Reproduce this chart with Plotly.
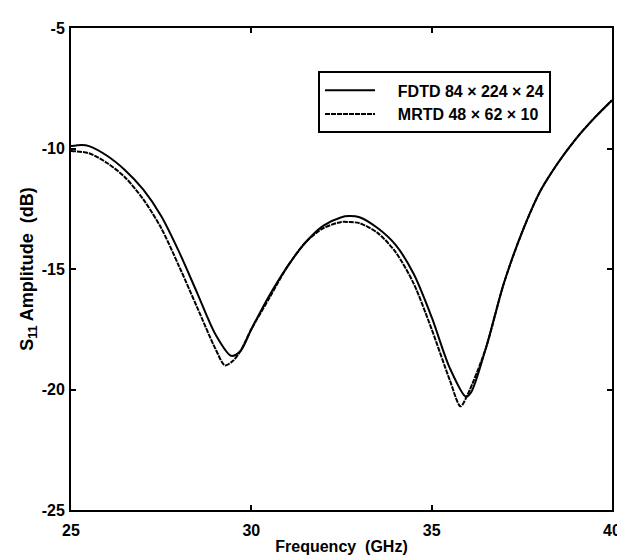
import plotly.graph_objects as go

freq_fdtd = [25.0, 25.3, 25.5, 26.0, 26.5, 27.0, 27.5, 28.0, 28.5, 29.0, 29.44, 29.7, 30.0, 30.5, 31.0,
             31.5, 32.0, 32.5, 32.7, 33.0, 33.5, 34.0, 34.5, 35.0, 35.5, 35.95, 36.1, 36.5, 37.0,
             37.5, 38.0, 38.5, 39.0, 39.5, 40.0]
s11_fdtd = [-9.9, -9.85, -9.9, -10.3, -10.9, -11.7, -12.8, -14.3, -16.0, -17.7, -18.6, -18.4, -17.5,
            -16.1, -14.9, -13.9, -13.2, -12.85, -12.8, -12.85, -13.3, -14.0, -15.2, -17.0, -19.1,
            -20.3, -20.1, -18.3, -15.6, -13.5, -11.8, -10.6, -9.6, -8.75, -8.0]

freq_mrtd = [25.0, 25.5, 26.0, 26.5, 27.0, 27.5, 28.0, 28.5, 29.0, 29.27, 29.5, 29.7, 30.0, 30.5, 31.0,
             31.5, 32.0, 32.5, 32.7, 33.0, 33.5, 34.0, 34.5, 35.0, 35.5, 35.8, 36.0, 36.5, 37.0,
             37.5, 38.0, 38.5, 39.0, 39.5, 40.0]
s11_mrtd = [-10.1, -10.2, -10.6, -11.2, -12.1, -13.3, -14.9, -16.6, -18.3, -19.0, -18.8, -18.4, -17.5,
            -16.2, -14.9, -13.9, -13.3, -13.05, -13.05, -13.1, -13.5, -14.3, -15.6, -17.5, -19.6,
            -20.7, -20.2, -18.3, -15.6, -13.5, -11.8, -10.6, -9.6, -8.75, -8.0]

x_ticks = [25, 30, 35, 40]
y_ticks = [-5, -10, -15, -20, -25]
legend_names = ["FDTD 84 \u00d7 224 \u00d7 24", "MRTD 48 \u00d7 62 \u00d7 10"]

FAM = "Liberation Sans, Arial, Helvetica, sans-serif"
font = dict(family=FAM, size=16, color="black", weight="bold")
pad = "\u00a0" * 4

fig = go.Figure()
fig.add_trace(go.Scatter(x=freq_fdtd, y=s11_fdtd, mode="lines",
                         line=dict(color="black", width=2, shape="spline", smoothing=0.8),
                         name=pad + legend_names[0]))
fig.add_trace(go.Scatter(x=freq_mrtd, y=s11_mrtd, mode="lines",
                         line=dict(color="black", width=2, shape="spline", smoothing=0.8, dash="5px,1px"),
                         name=pad + legend_names[1]))

axis_common = dict(showline=True, linecolor="black", linewidth=2, mirror="ticks",
                   ticks="inside", ticklen=5, tickwidth=1.5, tickcolor="black",
                   showgrid=False, zeroline=False, tickfont=font)

fig.update_xaxes(range=[25, 40], tickvals=x_ticks, ticktext=[str(v) for v in x_ticks],
                 ticklabelstandoff=5,
                 title=dict(text="Frequency  (GHz)", font=font, standoff=3), **axis_common)
fig.update_yaxes(range=[-25, -5], tickvals=y_ticks, ticktext=[str(v) for v in y_ticks],
                 ticklabelstandoff=1,
                 title=dict(text="S<sub>11</sub> Amplitude  (dB)",
                            font=dict(family=FAM, size=18, color="black", weight="bold"), standoff=3),
                 **axis_common)

fig.update_layout(
    width=625, height=560,
    margin=dict(l=63, r=21, t=14, b=58),
    paper_bgcolor="white", plot_bgcolor="white",
    font=font,
    showlegend=True,
    legend=dict(x=0.4566, y=0.91, xanchor="left", yanchor="top",
                bordercolor="black", borderwidth=2, bgcolor="white",
                font=font, itemwidth=50, tracegroupgap=0),
)

fig.write_html("out.html")
